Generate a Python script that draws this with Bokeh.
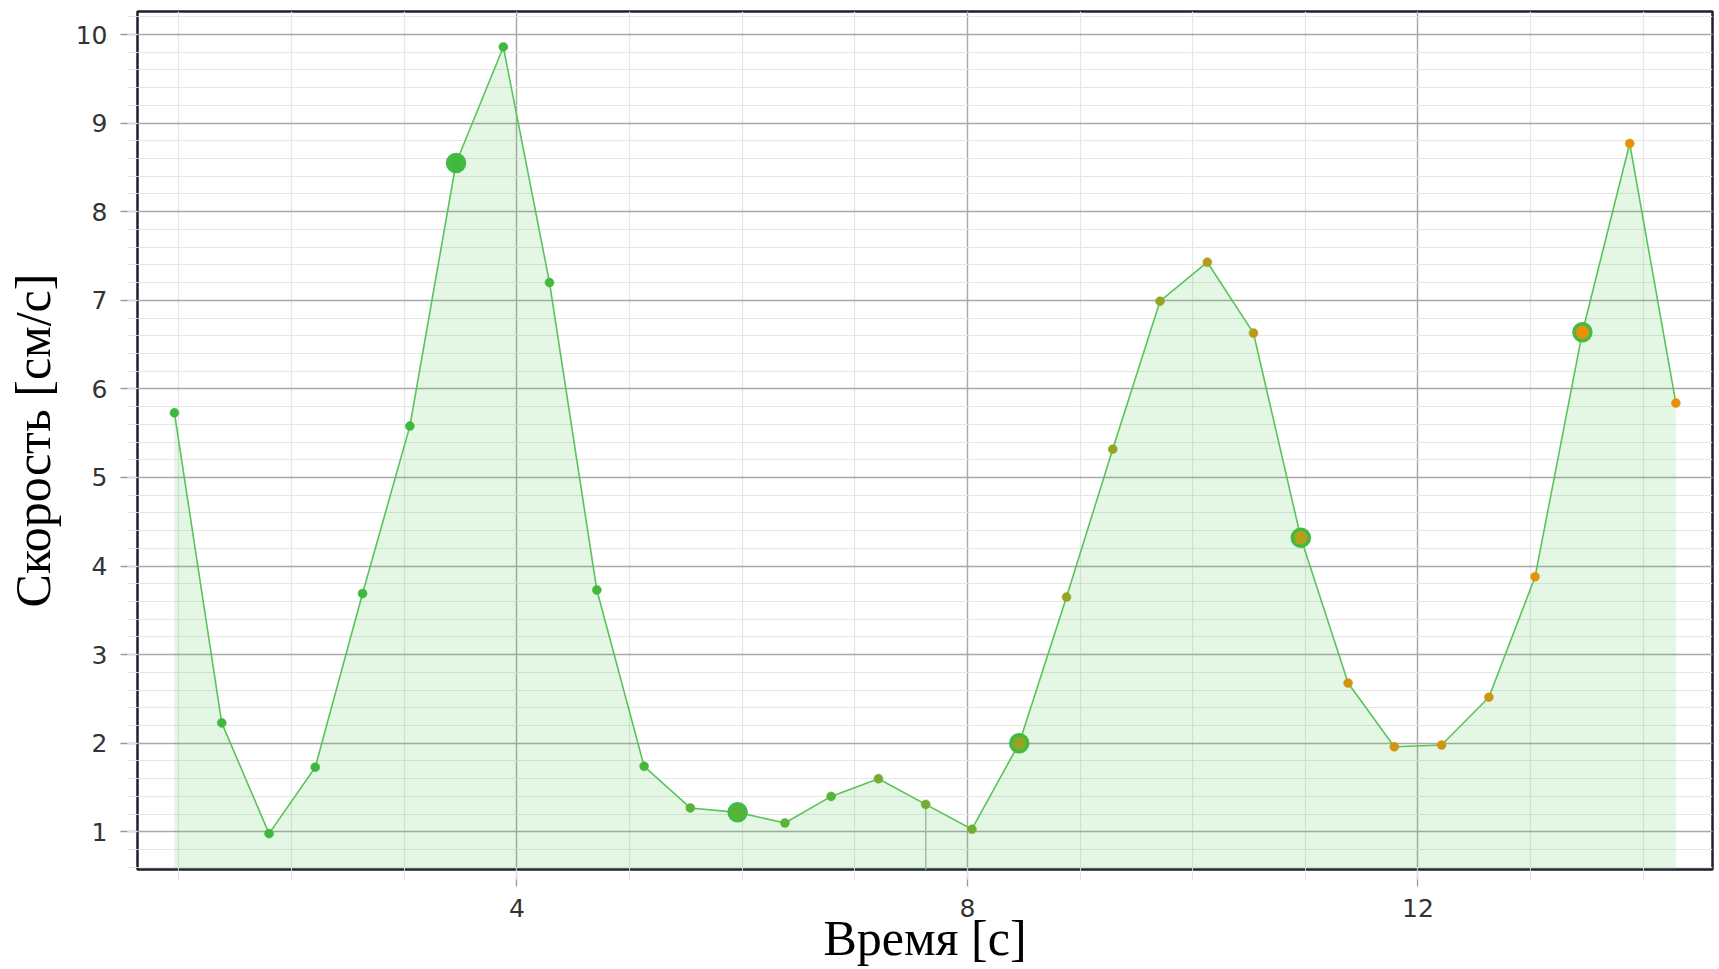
from bokeh.plotting import figure
from bokeh.models import Range1d, SingleIntervalTicker, ColumnDataSource
from bokeh.transform import linear_cmap
from bokeh.embed import file_html
from bokeh.resources import INLINE

# ---- data ----
time_s = [0.96, 1.38, 1.80, 2.21, 2.63, 3.05, 3.46, 3.88, 4.29, 4.71, 5.13,
          5.54, 5.96, 6.38, 6.79, 7.21, 7.63, 8.04, 8.46, 8.88, 9.29, 9.71,
          10.13, 10.54, 10.96, 11.38, 11.79, 12.21, 12.63, 13.04, 13.46,
          13.88, 14.29]
speed = [5.73, 2.23, 0.98, 1.73, 3.69, 5.58, 8.55, 9.86, 7.20, 3.73, 1.74,
         1.27, 1.22, 1.10, 1.40, 1.60, 1.31, 1.03, 2.00, 3.65, 5.32, 6.99,
         7.43, 6.63, 4.32, 2.68, 1.96, 1.98, 2.52, 3.88, 6.64, 8.77, 5.84]
highlight_idx = [6, 12, 18, 24, 30]
cursor_idx = 16
x_title = "Время [с]"
y_title = "Скорость [см/с]"

palette = ["#3fb83f", "#3fb83f", "#46b63c", "#58b337", "#74ac2f", "#94a525",
           "#b49e1a", "#d09612", "#e8900a"]

src = ColumnDataSource(dict(t=time_s, v=speed, base=[0] * len(time_s)))
hsrc = ColumnDataSource(dict(t=[time_s[i] for i in highlight_idx],
                             v=[speed[i] for i in highlight_idx]))
csrc = ColumnDataSource(dict(t=[time_s[cursor_idx]], v=[speed[cursor_idx]], b=[0]))

p = figure(width=1715, height=968,
           x_range=Range1d(0.632, 14.615), y_range=Range1d(0.575, 10.26),
           output_backend="svg", toolbar_location=None,
           min_border_left=137, min_border_top=11, min_border_right=3,
           min_border_bottom=98, background_fill_color="white",
           border_fill_color="white")

p.outline_line_color = "#1e1e30"
p.outline_line_width = 2.5

xt = SingleIntervalTicker(interval=4, num_minor_ticks=4)
yt = SingleIntervalTicker(interval=1, num_minor_ticks=5)
p.xaxis.ticker = xt
p.yaxis.ticker = yt
p.xgrid.ticker = xt
p.ygrid.ticker = yt

for g in (p.xgrid, p.ygrid):
    g.grid_line_color = "#a9a9a9"
    g.grid_line_width = 1.4
    g.minor_grid_line_color = "#e6e6e6"
    g.minor_grid_line_width = 1.2

for ax in (p.xaxis, p.yaxis):
    ax.axis_line_color = None
    ax.major_tick_line_color = "#9a9a9a"
    ax.major_tick_line_width = 1.3
    ax.major_tick_in = 0
    ax.major_tick_out = 17
    ax.minor_tick_line_color = "#e2e2e2"
    ax.minor_tick_in = 0
    ax.minor_tick_out = 10
    ax.major_label_text_font = "DejaVu Sans"
    ax.major_label_text_font_size = "25px"
    ax.major_label_text_color = "#333333"
    ax.axis_label_text_font = "Liberation Serif"
    ax.axis_label_text_font_size = "50px"
    ax.axis_label_text_font_style = "normal"
    ax.axis_label_text_color = "#000000"

p.xaxis.axis_label = x_title
p.yaxis.axis_label = y_title
p.xaxis.major_label_standoff = 12
p.yaxis.major_label_standoff = 13
p.xaxis.axis_label_standoff = -10
p.yaxis.axis_label_standoff = 12

# filled area under the curve
p.varea(x="t", y1="base", y2="v", source=src,
        fill_color="#4cc04c", fill_alpha=0.15)

# cursor line
p.segment(x0="t", y0="v", x1="t", y1="b", source=csrc,
          line_color="#9cbf9c", line_width=1.5)

# curve
p.line(x="t", y="v", source=src, line_color="#5ac45a", line_width=1.6)

cmap = linear_cmap("t", palette, low=time_s[0], high=time_s[-1])
p.scatter(x="t", y="v", source=src, size=9, fill_color=cmap,
          line_color=cmap, line_width=0.5)

cmap_h = linear_cmap("t", palette, low=time_s[0], high=time_s[-1])
p.scatter(x="t", y="v", source=hsrc, size=17, fill_color=cmap_h,
          line_color="#42bb42", line_width=3.5)

open("out.html", "w").write(file_html(p, INLINE))
